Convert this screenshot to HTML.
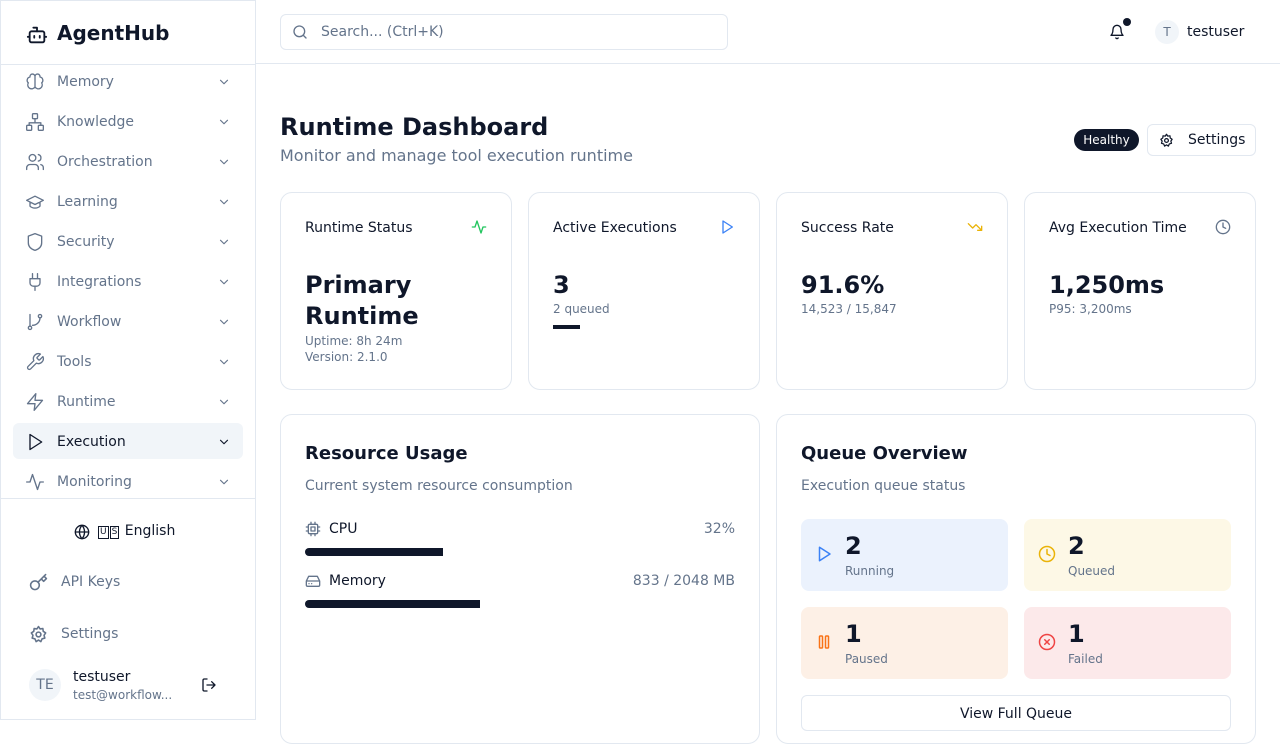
<!DOCTYPE html>
<html><head><meta charset="utf-8"><style>
*{box-sizing:border-box;margin:0;padding:0}
body{width:1280px;height:720px;overflow:hidden;background:#fff;font-family:"DejaVu Sans","Liberation Sans",sans-serif;color:#0f172a;position:relative}
.abs{position:absolute}
svg{fill:none;stroke:currentColor;stroke-width:2;stroke-linecap:round;stroke-linejoin:round}
.nav{position:absolute;left:13px;width:230px;height:36px;border-radius:6px;color:#64748b;font-size:14px}
.nav svg{position:absolute;left:12px;top:9px;width:20px;height:20px;stroke-width:1.6}
.nav span{position:absolute;left:44px;top:11px}
.nav .chev{left:204px;top:12px;width:14px;height:14px;stroke-width:2}
.card{position:absolute;border:1px solid #e2e8f0;border-radius:12px;background:#fff}
.ct{position:absolute;left:24px;top:27px;font-size:14px;color:#0f172a}
.ci{position:absolute;right:24px;top:26px;width:16px;height:16px}
.big{position:absolute;left:24px;font-size:24px;font-weight:bold;line-height:31px}
.sub{position:absolute;left:24px;font-size:12px;color:#64748b}
.tile{position:absolute;width:207px;height:72px;border-radius:8px}
.tile svg{position:absolute;left:14px;top:26px;width:18px;height:18px}
.tile .n{position:absolute;left:44px;top:13px;font-size:24px;font-weight:bold}
.tile .l{position:absolute;left:44px;top:45px;font-size:12px;color:#64748b}
.flag{display:inline-block;border:1px solid #0f172a;font-size:9px;line-height:11px;padding:0 1px;margin-right:1px;vertical-align:1px}
</style></head><body>
<div class="abs" style="left:0;top:0;width:256px;height:720px;border:1px solid #e2e8f0;border-right:1px solid #e2e8f0"></div>
<div class="abs" style="left:26px;top:21px;font-size:20px;font-weight:bold;height:26px">
<svg style="position:absolute;left:0;top:3px;width:22px;height:22px" viewBox="0 0 24 24"><path d="M12 8V4H8"/><rect x="4" y="8" width="16" height="12" rx="2"/><path d="M2 14h2M20 14h2M15 13v2M9 13v2"/></svg>
<span style="position:absolute;left:31px;top:0;white-space:nowrap">AgentHub</span></div>
<div class="abs" style="left:0;top:64px;width:256px;height:1px;background:#e2e8f0"></div>

<div class="nav" style="top:63px"><svg viewBox="0 0 24 24"><path d="M12 5a3 3 0 1 0-6 1 4 4 0 0 0-2 7 4 4 0 0 0 8 5zM12 5a3 3 0 1 1 6 1 4 4 0 0 1 2 7 4 4 0 0 1-8 5zM12 5v13"/></svg><span>Memory</span><svg class="chev" viewBox="0 0 24 24"><path d="m6 9 6 6 6-6"/></svg></div>
<div class="nav" style="top:103px"><svg viewBox="0 0 24 24"><rect x="16" y="16" width="6" height="6" rx="1"/><rect x="2" y="16" width="6" height="6" rx="1"/><rect x="9" y="2" width="6" height="6" rx="1"/><path d="M5 16v-3h14v3M12 12V8"/></svg><span>Knowledge</span><svg class="chev" viewBox="0 0 24 24"><path d="m6 9 6 6 6-6"/></svg></div>
<div class="nav" style="top:143px"><svg viewBox="0 0 24 24"><path d="M16 21v-2a4 4 0 0 0-4-4H6a4 4 0 0 0-4 4v2"/><circle cx="9" cy="7" r="4"/><path d="M22 21v-2a4 4 0 0 0-3-3.9M16 3.1a4 4 0 0 1 0 7.8"/></svg><span>Orchestration</span><svg class="chev" viewBox="0 0 24 24"><path d="m6 9 6 6 6-6"/></svg></div>
<div class="nav" style="top:183px"><svg viewBox="0 0 24 24"><path d="M22 10 12 5 2 10l10 5 10-5zM6 12v5c3 3 9 3 12 0v-5"/></svg><span>Learning</span><svg class="chev" viewBox="0 0 24 24"><path d="m6 9 6 6 6-6"/></svg></div>
<div class="nav" style="top:223px"><svg viewBox="0 0 24 24"><path d="M20 13c0 5-3.5 7.5-8 9-4.5-1.5-8-4-8-9V5l8-3 8 3z"/></svg><span>Security</span><svg class="chev" viewBox="0 0 24 24"><path d="m6 9 6 6 6-6"/></svg></div>
<div class="nav" style="top:263px"><svg viewBox="0 0 24 24"><path d="M12 22v-5M9 8V2M15 8V2M18 8v5a4 4 0 0 1-4 4h-4a4 4 0 0 1-4-4V8z"/></svg><span>Integrations</span><svg class="chev" viewBox="0 0 24 24"><path d="m6 9 6 6 6-6"/></svg></div>
<div class="nav" style="top:303px"><svg viewBox="0 0 24 24"><circle cx="6" cy="19" r="2"/><circle cx="18" cy="5" r="2"/><path d="M6 3v14M18 7a9 9 0 0 1-9 9"/></svg><span>Workflow</span><svg class="chev" viewBox="0 0 24 24"><path d="m6 9 6 6 6-6"/></svg></div>
<div class="nav" style="top:343px"><svg viewBox="0 0 24 24"><path d="M14.7 6.3a1 1 0 0 0 0 1.4l1.6 1.6a1 1 0 0 0 1.4 0l3.8-3.8a6 6 0 0 1-7.9 7.9l-6.9 6.9a2.1 2.1 0 0 1-3-3l6.9-6.900a6 6 0 0 1 7.9-7.9z"/></svg><span>Tools</span><svg class="chev" viewBox="0 0 24 24"><path d="m6 9 6 6 6-6"/></svg></div>
<div class="nav" style="top:383px"><svg viewBox="0 0 24 24"><path d="M13 2 3 14h9l-1 8 10-12h-9z"/></svg><span>Runtime</span><svg class="chev" viewBox="0 0 24 24"><path d="m6 9 6 6 6-6"/></svg></div>
<div class="nav" style="top:423px;background:#f1f5f9;color:#0f172a"><svg viewBox="0 0 24 24"><path d="M6 3l14 9-14 9z"/></svg><span>Execution</span><svg class="chev" viewBox="0 0 24 24"><path d="m6 9 6 6 6-6"/></svg></div>
<div class="nav" style="top:463px"><svg viewBox="0 0 24 24"><path d="M22 12h-4l-3 9L9 3l-3 9H2"/></svg><span>Monitoring</span><svg class="chev" viewBox="0 0 24 24"><path d="m6 9 6 6 6-6"/></svg></div>

<div class="abs" style="left:0;top:498px;width:256px;height:1px;background:#e2e8f0"></div>
<div class="abs" style="left:74px;top:523px;font-size:14px;white-space:nowrap"><svg style="position:absolute;left:0;top:1px;width:16px;height:16px" viewBox="0 0 24 24"><circle cx="12" cy="12" r="10"/><path d="M2 12h20M12 2a15 15 0 0 1 0 20M12 2a15 15 0 0 0 0 20"/></svg><span style="position:absolute;left:24px;top:0"><span class="flag">U</span><span class="flag">S</span> English</span></div>
<div class="abs" style="left:29px;top:572px;font-size:14px;color:#64748b;white-space:nowrap"><svg style="position:absolute;left:0;top:1px;width:19px;height:19px" viewBox="0 0 24 24"><circle cx="7.5" cy="15.5" r="5.5"/><path d="m21 2-9.6 9.6M15.5 7.5l3 3L22 7l-3-3"/></svg><span style="position:absolute;left:32px;top:2px">API Keys</span></div>
<div class="abs" style="left:29px;top:624px;font-size:14px;color:#64748b;white-space:nowrap"><svg style="position:absolute;left:0;top:1px;width:19px;height:19px" viewBox="0 0 24 24"><circle cx="12" cy="12" r="3"/><path d="M12 2l2 3 3.5-.5.5 3.5 3 2-2 3 1 3.5-3.5 1L15 21l-3-2-3 2-1.5-3.5-3.5-1 1-3.5-2-3 3-2 .5-3.5L10 5z"/></svg><span style="position:absolute;left:32px;top:2px">Settings</span></div>
<div class="abs" style="left:29px;top:669px;width:32px;height:32px;border-radius:50%;background:#f1f5f9;color:#64748b;font-size:14px;text-align:center;line-height:32px">TE</div>
<div class="abs" style="left:73px;top:669px;font-size:14px">testuser</div>
<div class="abs" style="left:73px;top:688px;font-size:12px;color:#64748b">test@workflow...</div>
<svg class="abs" style="left:201px;top:677px;width:16px;height:16px" viewBox="0 0 24 24"><path d="M9 21H5a2 2 0 0 1-2-2V5a2 2 0 0 1 2-2h4M16 17l5-5-5-5M21 12H9"/></svg>

<div class="abs" style="left:256px;top:63px;width:1024px;height:1px;background:#e2e8f0"></div>
<div class="abs" style="left:280px;top:14px;width:448px;height:36px;border:1px solid #e2e8f0;border-radius:6px;font-size:14px;color:#64748b"><svg style="position:absolute;left:11px;top:9px;width:16px;height:16px" viewBox="0 0 24 24"><circle cx="11" cy="11" r="8"/><path d="m21 21-4.3-4.3"/></svg><span style="position:absolute;left:40px;top:9px">Search... (Ctrl+K)</span></div>
<svg class="abs" style="left:1109px;top:24px;width:16px;height:16px" viewBox="0 0 24 24"><path d="M6 8a6 6 0 0 1 12 0c0 7 3 9 3 9H3s3-2 3-9M10.3 21a2 2 0 0 0 3.4 0"/></svg>
<div class="abs" style="left:1123px;top:18px;width:8px;height:8px;border-radius:50%;background:#0f172a"></div>
<div class="abs" style="left:1155px;top:20px;width:24px;height:24px;border-radius:50%;background:#f1f5f9;color:#64748b;font-size:12px;text-align:center;line-height:24px">T</div>
<div class="abs" style="left:1187px;top:24px;font-size:14px">testuser</div>

<div class="abs" style="left:280px;top:113px;font-size:24px;font-weight:bold">Runtime Dashboard</div>
<div class="abs" style="left:280px;top:146px;font-size:16px;color:#64748b">Monitor and manage tool execution runtime</div>
<div class="abs" style="left:1074px;top:129px;width:65px;height:22px;border-radius:11px;background:#0f172a;color:#fff;font-size:12px;text-align:center;line-height:22px">Healthy</div>
<div class="abs" style="left:1147px;top:124px;width:109px;height:32px;border:1px solid #e2e8f0;border-radius:6px;font-size:14px"><svg style="position:absolute;left:11px;top:8px;width:15px;height:15px" viewBox="0 0 24 24"><circle cx="12" cy="12" r="3"/><path d="M12 2l2 3 3.5-.5.5 3.5 3 2-2 3 1 3.5-3.5 1L15 21l-3-2-3 2-1.5-3.5-3.5-1 1-3.5-2-3 3-2 .5-3.5L10 5z"/></svg><span style="position:absolute;left:40px;top:7px">Settings</span></div>

<div class="card" style="left:280px;top:192px;width:232px;height:198px">
<div class="ct">Runtime Status</div><svg class="ci" style="color:#22c55e" viewBox="0 0 24 24"><path d="M22 12h-4l-3 9L9 3l-3 9H2"/></svg>
<div class="big" style="top:77px">Primary<br>Runtime</div>
<div class="sub" style="top:141px">Uptime: 8h 24m</div><div class="sub" style="top:157px">Version: 2.1.0</div></div>
<div class="card" style="left:528px;top:192px;width:232px;height:198px">
<div class="ct">Active Executions</div><svg class="ci" style="color:#3b82f6" viewBox="0 0 24 24"><path d="M6 3l14 9-14 9z"/></svg>
<div class="big" style="top:77px">3</div><div class="sub" style="top:109px">2 queued</div>
<div class="abs" style="left:24px;top:132px;width:27px;height:4px;background:#0f172a"></div></div>
<div class="card" style="left:776px;top:192px;width:232px;height:198px">
<div class="ct">Success Rate</div><svg class="ci" style="color:#eab308" viewBox="0 0 24 24"><path d="M22 17l-8.5-8.5-5 5L2 7M16 17h6v-6"/></svg>
<div class="big" style="top:77px">91.6%</div><div class="sub" style="top:109px">14,523 / 15,847</div></div>
<div class="card" style="left:1024px;top:192px;width:232px;height:198px">
<div class="ct">Avg Execution Time</div><svg class="ci" style="color:#64748b" viewBox="0 0 24 24"><circle cx="12" cy="12" r="10"/><path d="M12 6v6l4 2"/></svg>
<div class="big" style="top:77px">1,250ms</div><div class="sub" style="top:109px">P95: 3,200ms</div></div>

<div class="card" style="left:280px;top:414px;width:480px;height:330px">
<div class="abs" style="left:24px;top:28px;font-size:18px;font-weight:bold">Resource Usage</div>
<div class="abs" style="left:24px;top:63px;font-size:14px;color:#64748b">Current system resource consumption</div>
<svg class="abs" style="left:24px;top:106px;width:16px;height:16px;color:#64748b" viewBox="0 0 24 24"><rect x="5" y="5" width="14" height="14" rx="2"/><rect x="9" y="9" width="6" height="6"/><path d="M9 2v3M15 2v3M9 19v3M15 19v3M2 9h3M2 15h3M19 9h3M19 15h3"/></svg>
<div class="abs" style="left:48px;top:106px;font-size:14px">CPU</div>
<div class="abs" id="cpu-label" style="right:24px;top:106px;font-size:14px;color:#64748b"></div>
<div class="abs" id="cpu-bar" style="left:24px;top:133px;height:8px;background:#0f172a;border-radius:4px 0 0 4px"></div>
<svg class="abs" style="left:24px;top:158px;width:16px;height:16px;color:#64748b" viewBox="0 0 24 24"><path d="M22 12H2M5.5 5h13L22 12v6a2 2 0 0 1-2 2H4a2 2 0 0 1-2-2v-6zM6 16h.01M10 16h.01"/></svg>
<div class="abs" style="left:48px;top:158px;font-size:14px">Memory</div>
<div class="abs" id="mem-label" style="right:24px;top:158px;font-size:14px;color:#64748b"></div>
<div class="abs" id="mem-bar" style="left:24px;top:185px;height:8px;background:#0f172a;border-radius:4px 0 0 4px"></div>
</div>

<div class="card" style="left:776px;top:414px;width:480px;height:330px">
<div class="abs" style="left:24px;top:28px;font-size:18px;font-weight:bold">Queue Overview</div>
<div class="abs" style="left:24px;top:63px;font-size:14px;color:#64748b">Execution queue status</div>
<div class="tile" style="left:24px;top:104px;background:#ebf2fd"><svg style="color:#3b82f6" viewBox="0 0 24 24"><path d="M6 3l14 9-14 9z"/></svg><div class="n">2</div><div class="l">Running</div></div>
<div class="tile" style="left:247px;top:104px;background:#fdf8e6"><svg style="color:#eab308" viewBox="0 0 24 24"><circle cx="12" cy="12" r="10"/><path d="M12 6v6l4 2"/></svg><div class="n">2</div><div class="l">Queued</div></div>
<div class="tile" style="left:24px;top:192px;background:#fdf0e6"><svg style="color:#f97316" viewBox="0 0 24 24"><rect x="6" y="4" width="4" height="16" rx="1"/><rect x="14" y="4" width="4" height="16" rx="1"/></svg><div class="n">1</div><div class="l">Paused</div></div>
<div class="tile" style="left:247px;top:192px;background:#fce9ea"><svg style="color:#ef4444" viewBox="0 0 24 24"><circle cx="12" cy="12" r="10"/><path d="m15 9-6 6M9 9l6 6"/></svg><div class="n">1</div><div class="l">Failed</div></div>
<div class="abs" style="left:24px;top:280px;width:430px;height:36px;border:1px solid #e2e8f0;border-radius:6px;text-align:center;font-size:14px;line-height:36px">View Full Queue</div>
</div>
<script>
const resourceNames=["CPU","Memory"];
const resourceUsed=[32,833];
const resourceTotal=[100,2048];
const barWidth=430;
const cpu=document.getElementById('cpu-bar');
cpu.style.width=(resourceUsed[0]/resourceTotal[0]*barWidth)+'px';
document.getElementById('cpu-label').textContent=resourceUsed[0]+'%';
const mem=document.getElementById('mem-bar');
mem.style.width=(resourceUsed[1]/resourceTotal[1]*barWidth)+'px';
document.getElementById('mem-label').textContent=resourceUsed[1]+' / '+resourceTotal[1]+' MB';
</script>
</body></html>
